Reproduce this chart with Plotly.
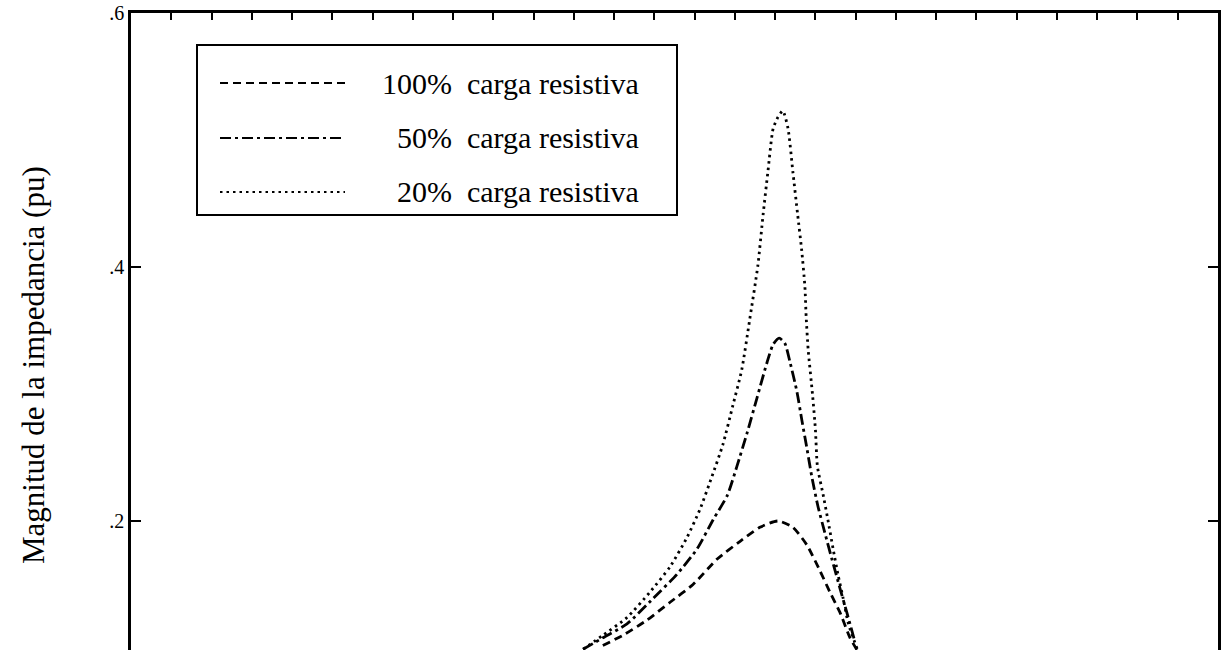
import plotly.graph_objects as go

# ---- data (harmonic order vs impedance magnitude, pu) ----
series_names = ["100%\u00a0 carga resistiva", "50%\u00a0 carga resistiva", "20%\u00a0 carga resistiva"]

x_100 = [11.72, 12.22, 12.82, 13.39, 13.96, 14.56, 15.13, 15.62, 16.07, 16.44, 16.79,
         17.11, 17.36, 17.61, 17.86, 18.04]
y_100 = [0.102, 0.110, 0.122, 0.136, 0.150, 0.170, 0.184, 0.195, 0.200, 0.195, 0.181,
         0.161, 0.144, 0.128, 0.108, 0.098]

x_50 = [11.23, 11.72, 12.32, 12.97, 13.56, 14.06, 14.46, 14.81, 15.05, 15.30, 15.55,
        15.80, 15.95, 16.10, 16.24, 16.37, 16.54, 16.66, 16.79, 16.91, 17.06, 17.24,
        17.41, 17.61, 17.78, 17.98]
y_50 = [0.099, 0.108, 0.119, 0.139, 0.158, 0.178, 0.201, 0.220, 0.243, 0.269, 0.297,
        0.325, 0.339, 0.344, 0.340, 0.325, 0.302, 0.280, 0.257, 0.235, 0.212, 0.190,
        0.170, 0.147, 0.128, 0.105]

x_20 = [11.23, 11.72, 12.32, 12.89, 13.39, 13.81, 14.13, 14.43, 14.70, 14.95, 15.17,
        15.37, 15.57, 15.70, 15.82, 15.95, 16.07, 16.19, 16.32, 16.44, 16.56, 16.66,
        16.74, 16.77, 16.82, 16.93, 17.00, 17.05, 17.19, 17.31, 17.44, 17.56, 17.69,
        17.82, 18.04]
y_20 = [0.099, 0.110, 0.124, 0.144, 0.164, 0.187, 0.209, 0.235, 0.260, 0.291, 0.319,
        0.359, 0.401, 0.441, 0.475, 0.509, 0.518, 0.523, 0.509, 0.475, 0.441, 0.413,
        0.384, 0.361, 0.335, 0.299, 0.272, 0.243, 0.221, 0.201, 0.178, 0.158, 0.139,
        0.119, 0.099]

y_tickvals = [0.2, 0.4, 0.6]
y_ticktext = [".2", ".4", ".6"]
y_title = "Magnitud de la impedancia (pu)"

dash_styles = ["8px,5px", "11px,4px,3px,4px", "2.5px,4px"]

fig = go.Figure()
for xs, ys, name, dash in zip([x_100, x_50, x_20], [y_100, y_50, y_20], series_names, dash_styles):
    fig.add_trace(go.Scatter(x=xs, y=ys, mode="lines", name=name, showlegend=False,
                             line=dict(color="black", width=2.8, dash=dash,
                                       shape="spline", smoothing=0.6)))

# ---- legend drawn as a framed box ----
W, H0 = 1087.0, 637.0
def px(xp):
    return (xp - 131) / W
def py(yp):
    return (650 - yp) / H0

shapes = [dict(type="rect", xref="paper", yref="paper", x0=px(197), x1=px(677),
               y0=py(215), y1=py(45), line=dict(color="black", width=2), fillcolor="white",
               layer="above")]
rows = [83, 138, 192]
annotations = []
for name, dash, r in zip(series_names, dash_styles, rows):
    shapes.append(dict(type="line", xref="paper", yref="paper", x0=px(220), x1=px(345),
                       y0=py(r), y1=py(r), line=dict(color="black", width=2.2, dash=dash),
                       layer="above"))
    annotations.append(dict(xref="paper", yref="paper", x=px(641), y=py(r), text=name,
                            showarrow=False, xanchor="right", yanchor="middle",
                            font=dict(family="Liberation Serif", size=30, color="black")))

annotations.append(dict(xref="paper", yref="paper", x=px(33), y=py(365), text=y_title,
                        textangle=-90, showarrow=False, xanchor="center", yanchor="middle",
                        font=dict(family="Liberation Serif", size=31, color="black")))

fig.update_layout(
    width=1228, height=650,
    margin=dict(l=131, r=10, t=13, b=0),
    paper_bgcolor="white", plot_bgcolor="white",
    shapes=shapes, annotations=annotations,
    font=dict(family="Liberation Serif", color="black"),
)
fig.update_xaxes(range=[0, 27], side="top", showline=True, linecolor="black", linewidth=2.5,
                 mirror=False, ticks="inside", ticklen=7, tickwidth=2, tickcolor="black",
                 dtick=1, showticklabels=False, showgrid=False, zeroline=False)
fig.update_yaxes(range=[0.0984, 0.6], showline=True, linecolor="black", linewidth=2.5,
                 mirror="ticks", ticks="inside", ticklen=10, tickwidth=2, tickcolor="black",
                 tickvals=y_tickvals, ticktext=y_ticktext, showgrid=False, zeroline=False,
                 tickfont=dict(family="Liberation Serif", size=20, color="black"))

fig.write_html("out.html")
